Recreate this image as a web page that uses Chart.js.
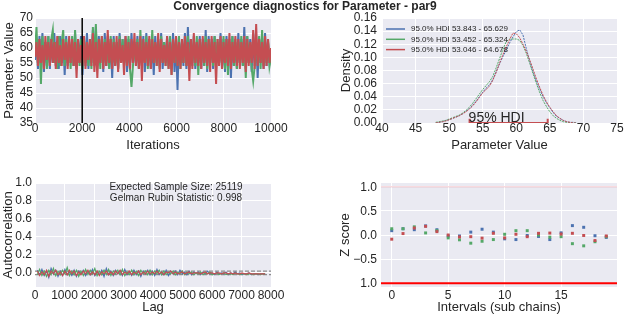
<!DOCTYPE html>
<html>
<head>
<meta charset="utf-8">
<script src="https://cdn.jsdelivr.net/npm/chart.js@4.4.0/dist/chart.umd.min.js"></script>
<style>
  html, body { margin: 0; padding: 0; background: #fff; }
  #wrap { position: relative; width: 624px; height: 316px; overflow: hidden; }
  canvas { position: absolute; left: 0; top: 0; }
  .ztick { position: absolute; font: 12px "Liberation Sans", Arial, sans-serif; color: #262626;
           line-height: 14px; height: 14px; text-align: right; width: 40px; z-index: 5; }
</style>
</head>
<body>
<div id="wrap">
  <canvas id="trace" width="624" height="316"></canvas>
  <canvas id="density" width="624" height="316"></canvas>
  <canvas id="autocorr" width="624" height="316"></canvas>
  <canvas id="zscore" width="624" height="316"></canvas>
</div>
<script>
// --- data ---
const figTitle = 'Convergence diagnostics for Parameter - par9';

// trace plot (3 chains, 10000 iterations, sampled)
const nIter = 10000;
const burnIn = 2000;
const traceBlue = [
  56,63,53,64,55,65,52,62,54,64, 53,63,55,65,54,62,53,64,55,63,
  51,64,54,63,55,62,54,65,53,63, 55,64,51,63,54,65,53,62,55,66,
  54,67,53,64,55,63,52,65,54,64, 53,63,50,64,54,62,53,65,55,63,
  54,64,52,63,53,65,55,62,54,64, 53,63,55,64,52,65,54,63,53,62,
  51,64,55,63,54,65,53,62,55,64, 54,63,53,65,52,64,46,63,55,62,
  54,65,53,67,55,63,54,64,53,62, 55,64,53,63,54,66,52,64,55,63,
  53,64,54,62,55,65,53,63,52,64, 55,63,50,64,54,62,53,65,55,63,
  54,67,53,64,55,63,52,65,54,64, 50,63,55,64,53,65,54,62,55,58
];
const traceGreen = [
  58,67,54,63,48,64,55,62,53,64, 54,63,66,55,62,53,64,54,62,66,
  54,63,55,62,53,64,54,66,55,62, 54,63,53,64,55,62,54,63,53,67,
  55,68,54,62,53,64,55,63,54,62, 53,64,55,63,54,62,53,64,55,63,
  54,63,55,64,53,47,54,62,55,63, 53,66,54,62,55,64,53,63,54,66,
  55,62,54,63,53,64,55,62,54,63, 53,64,51,62,55,63,54,64,53,62,
  55,63,54,64,53,62,55,63,54,64, 51,63,55,62,54,64,53,63,55,62,
  54,64,53,63,55,62,54,64,53,63, 51,62,55,64,54,63,53,62,55,64,
  54,63,50,64,55,62,53,49,54,63, 55,64,53,66,54,62,55,63,54,57
];
const traceRed = [
  57,62,54,63,55,61,53,64,56,62, 54,63,55,62,53,64,55,61,54,63,
  56,62,53,64,55,63,54,62,50,63, 55,61,54,64,53,62,56,63,54,65,
  52,62,50,63,55,64,53,62,54,66, 55,63,53,62,54,64,52,63,55,61,
  51,64,54,62,53,63,55,65,54,62, 53,64,49,63,55,62,54,64,53,63,
  55,62,54,65,52,63,55,61,54,64, 53,62,51,63,55,64,54,62,53,63,
  55,64,54,62,49,63,53,65,55,62, 54,63,53,64,55,62,54,63,52,64,
  55,62,48,63,54,64,53,62,55,63, 54,65,53,62,55,64,54,63,53,62,
  55,64,52,63,54,62,55,66,53,68, 54,63,55,62,53,64,54,63,55,60
];

// posterior densities
const densityX = [48,48.5,49,49.5,50,50.5,51,51.5,52,52.5,53,53.5,54,54.5,55,55.5,56,56.5,57,57.5,
  58,58.5,59,59.5,60,60.5,61,61.5,62,62.5,63,63.5,64,64.5,65,65.5,66,66.5,67,67.5,68,68.5,69];
const densityBlue = [0.000,0.001,0.002,0.004,0.005,0.007,0.009,0.011,0.014,0.018,0.022,0.027,0.033,0.040,
  0.047,0.053,0.058,0.066,0.078,0.090,0.101,0.111,0.122,0.131,0.139,0.142,0.134,0.113,0.094,0.078,
  0.064,0.051,0.040,0.031,0.023,0.016,0.010,0.007,0.004,0.002,0.001,0.001,0.000];
const densityGreen = [0.001,0.002,0.003,0.004,0.006,0.008,0.010,0.012,0.015,0.019,0.024,0.030,0.037,0.044,
  0.051,0.057,0.063,0.071,0.084,0.098,0.112,0.124,0.128,0.128,0.128,0.126,0.118,0.106,0.091,0.075,
  0.060,0.046,0.034,0.025,0.017,0.011,0.007,0.004,0.002,0.001,0.000,0.000,0.000];
const densityRed = [0.000,0.001,0.002,0.003,0.005,0.007,0.009,0.011,0.014,0.017,0.021,0.026,0.032,0.039,
  0.046,0.051,0.056,0.065,0.077,0.091,0.104,0.116,0.127,0.137,0.136,0.130,0.120,0.109,0.096,0.082,
  0.067,0.054,0.042,0.032,0.024,0.017,0.011,0.007,0.004,0.002,0.001,0.000,0.000];
const hdiLabels = ['95.0% HDI 53.843 - 65.629', '95.0% HDI 53.452 - 65.324', '95.0% HDI 53.046 - 64.678'];
const hdi = [53.046, 64.678];
const hdiText = '95% HDI';

// autocorrelation (lags 78 .. 7800)
const lagStep = 78;
const acBlue = [0.03,-0.02,0.04,-0.03,0.02,-0.05,0.05,-0.01,0.03,-0.04,
  0.02,-0.03,0.04,-0.02,0.01,-0.03,0.03,-0.04,0.02,-0.01,
  0.03,-0.03,0.02,-0.02,0.04,-0.03,0.01,-0.02,0.03,-0.04,
  0.05,-0.02,0.02,-0.03,0.03,-0.01,0.02,-0.03,0.04,-0.02,
  0.01,-0.03,0.03,-0.02,0.02,-0.04,0.02,-0.01,0.03,-0.02,
  0.02,-0.03,0.04,-0.02,0.01,-0.02,0.03,-0.03,0.02,-0.01,
  0.02,-0.02,0.03,-0.01,0.01,-0.02,0.02,-0.02,0.01,-0.01,
  0.01,-0.02,0.01,-0.01,0.02,-0.01,0.00,-0.02,0.01,-0.01,
  0.00,-0.01,0.01,-0.02,0.00,-0.01,0.01,-0.01,0.00,-0.02,
  -0.01,-0.01,0.00,-0.02,-0.01,-0.01,-0.02,-0.01,-0.01,-0.01];
const acGreen = [-0.02,0.04,-0.03,0.02,-0.04,0.03,-0.02,0.05,-0.03,0.02,
  -0.02,0.03,-0.01,0.06,-0.03,0.02,-0.02,0.03,-0.04,0.02,
  -0.03,0.04,-0.02,0.03,-0.01,0.05,-0.03,0.02,-0.02,0.03,
  -0.02,0.04,-0.03,0.02,-0.01,0.03,-0.02,0.04,-0.03,0.01,
  -0.02,0.03,-0.02,0.02,-0.03,0.03,-0.01,0.02,-0.02,0.03,
  -0.02,0.02,-0.01,0.03,-0.02,0.02,-0.02,0.01,-0.01,0.02,
  -0.02,0.01,-0.01,0.02,-0.02,0.01,-0.01,0.01,-0.02,0.00,
  -0.01,0.01,-0.02,0.00,-0.01,0.01,-0.02,-0.01,0.00,-0.02,
  -0.01,0.00,-0.02,-0.01,-0.01,-0.02,0.00,-0.01,-0.02,-0.01,
  -0.01,-0.02,-0.01,-0.01,-0.02,-0.01,-0.01,-0.02,-0.01,-0.01];
const acRed = [0.02,-0.03,0.01,-0.02,0.03,-0.04,0.02,-0.01,0.03,-0.02,
  0.01,-0.03,0.02,-0.02,0.03,-0.01,0.02,-0.03,0.01,-0.02,
  0.02,-0.01,0.03,-0.02,0.01,-0.02,0.02,-0.03,0.01,-0.01,
  0.02,-0.02,0.01,-0.02,0.02,-0.01,0.03,-0.02,0.01,-0.01,
  0.02,-0.02,0.01,-0.01,0.02,-0.02,0.01,-0.01,0.02,-0.01,
  0.01,-0.01,0.02,-0.01,0.01,-0.02,0.01,0.00,0.02,-0.01,
  0.01,-0.01,0.00,0.01,-0.01,0.00,0.01,-0.01,0.00,0.00,
  0.00,-0.01,0.00,0.01,-0.01,0.00,0.00,-0.01,0.00,0.00,
  -0.01,0.00,0.00,-0.01,0.00,-0.01,0.00,-0.01,-0.01,0.00,
  -0.01,-0.01,0.00,-0.01,-0.01,-0.01,-0.01,-0.01,-0.01,-0.01];
const acBand = 0.0196;
const acNotes = ['Expected Sample Size: 25119', 'Gelman Rubin Statistic: 0.998'];

// Geweke z-scores per interval
const zIntervals = [0,1,2,3,4,5,6,7,8,9,10,11,12,13,14,15,16,17,18,19];
const zBlue = [0.09,0.13,0.11,0.19,0.11,-0.02,-0.02,0.06,0.12,0.06,-0.08,-0.095,-0.01,-0.03,-0.095,0.045,0.195,0.16,-0.015,-0.05];
const zGreen = [0.13,0.13,0.17,0.043,0.09,-0.06,-0.10,-0.17,-0.13,-0.095,0.015,0.09,0.09,0.0,-0.045,-0.035,-0.18,-0.225,-0.14,-0.035];
const zRed = [-0.087,0.03,0.145,0.18,0.07,0.0,-0.04,-0.035,-0.065,0.035,-0.06,0.015,-0.035,0.035,0.04,0.02,0.035,-0.01,-0.115,-0.02];
const zLimits = [-1, 1];
const zYTicks = [-1, -0.5, 0, 0.5, 1];
const zTickLabels = ['1.0', '\u22120.5', '0.0', '0.5', '1.0'];   // as printed, bottom to top

// --- style ---
const BLUE = '#4C72B0', GREEN = '#55A868', RED = '#C44E52';
const BG = '#EAEAF2', INK = '#262626';
const FONT = '"Liberation Sans", Arial, sans-serif';

Chart.defaults.font.family = FONT;
Chart.defaults.color = INK;
Chart.defaults.animation = false;
Chart.defaults.responsive = false;
Chart.defaults.plugins.legend.display = false;
Chart.defaults.plugins.tooltip.enabled = false;

Chart.register({
  id: 'plotBg',
  beforeDraw(chart) {
    const { ctx, chartArea: a } = chart;
    ctx.save();
    ctx.fillStyle = BG;
    ctx.fillRect(a.left, a.top, a.width, a.height);
    ctx.restore();
  }
});

// plot = [left, top, right, bottom] of the axes box in page pixels
function axes(plot, yW, xH, x, y) {
  const common = (o, isX) => ({
    type: 'linear',
    min: o.min, max: o.max,
    border: { display: false },
    grid: { color: '#ffffff', lineWidth: 1, drawTicks: false },
    afterFit: s => { if (isX) s.height = xH; else s.width = yW; },
    afterBuildTicks: s => { s.ticks = o.ticks.map(v => ({ value: v })); },
    ticks: {
      display: o.showTicks !== false,
      font: { size: 12, lineHeight: 1 },
      padding: o.pad,
      autoSkip: false,
      maxRotation: 0,
      minRotation: 0,
      callback: o.fmt || (v => v)
    },
    title: {
      display: true, text: o.title, color: INK,
      font: { size: 13 },
      padding: { top: o.tpad || 0, bottom: 0 }
    }
  });
  return {
    layout: { padding: { left: plot[0] - yW, top: plot[1], right: 624 - plot[2], bottom: 316 - plot[3] - xH } },
    scales: { x: common(x, true), y: common(y, false) }
  };
}

const series = (vals, xs) => vals.map((v, i) => ({ x: xs(i), y: v }));
const lineDs = (data, color, extra) => Object.assign({
  type: 'line', data, borderColor: color, backgroundColor: color,
  borderWidth: 1.2, pointRadius: 0, tension: 0
}, extra || {});

// --- trace ---
const iterAt = n => i => i * nIter / (n - 1);
new Chart(document.getElementById('trace'), {
  type: 'line',
  data: {
    datasets: [
      lineDs([{ x: burnIn, y: 35 }, { x: burnIn, y: 70 }], '#000000', { borderWidth: 1.5 }),
      lineDs(series(traceRed, iterAt(traceRed.length)), RED, { borderWidth: 2 }),
      lineDs(series(traceGreen, iterAt(traceGreen.length)), GREEN, { borderWidth: 2 }),
      lineDs(series(traceBlue, iterAt(traceBlue.length)), BLUE, { borderWidth: 2 })
    ]
  },
  options: axes([35, 18, 271, 123], 35, 30,
    { min: 0, max: nIter, ticks: [0, 2000, 4000, 6000, 8000, 10000], pad: 0, title: 'Iterations' },
    { min: 35, max: 70, ticks: [35, 40, 45, 50, 55, 60, 65, 70], pad: 2, tpad: 2, title: 'Parameter Value' }),
  plugins: [{
    id: 'suptitle',
    afterDraw(chart) {
      const ctx = chart.ctx;
      ctx.save();
      ctx.font = 'bold 12px ' + FONT;
      ctx.fillStyle = INK;
      ctx.textAlign = 'center';
      ctx.textBaseline = 'alphabetic';
      ctx.fillText(figTitle, 305, 10);
      ctx.restore();
    }
  }]
});

// --- density ---
const atDensityX = i => densityX[i];
new Chart(document.getElementById('density'), {
  type: 'line',
  data: {
    datasets: [
      lineDs([{ x: hdi[0], y: 0.0065 }, { x: hdi[0], y: 0 }, { x: hdi[1], y: 0 }, { x: hdi[1], y: 0.0065 }], RED, { borderWidth: 2 }),
      lineDs(series(densityRed, atDensityX), RED, { borderWidth: 1, borderDash: [2, 1] }),
      lineDs(series(densityGreen, atDensityX), GREEN, { borderWidth: 1, borderDash: [2, 1] }),
      lineDs(series(densityBlue, atDensityX), BLUE, { borderWidth: 1, borderDash: [2, 1] })
    ]
  },
  options: axes([382, 18, 617, 123], 44, 30,
    { min: 40, max: 75, ticks: [40, 45, 50, 55, 60, 65, 70, 75], pad: 0, title: 'Parameter Value' },
    { min: 0, max: 0.16, ticks: [0, 0.02, 0.04, 0.06, 0.08, 0.10, 0.12, 0.14, 0.16], pad: 5, tpad: 1,
      fmt: v => v.toFixed(2), title: 'Density' }),
  plugins: [{
    id: 'hdiNotes',
    afterDraw(chart) {
      const { ctx, chartArea: a, scales } = chart;
      ctx.save();
      ctx.font = '14px ' + FONT;
      ctx.fillStyle = INK;
      ctx.textBaseline = 'alphabetic';
      ctx.fillText(hdiText, scales.x.getPixelForValue(hdi[0]) - 1, scales.y.getPixelForValue(0) - 1.3);
      const colors = [BLUE, GREEN, RED];
      ctx.font = '8px ' + FONT;
      ctx.textBaseline = 'middle';
      hdiLabels.forEach((t, k) => {
        const yy = a.top + 11 + k * 10.3;
        ctx.strokeStyle = colors[k];
        ctx.lineWidth = 1.5;
        ctx.beginPath();
        ctx.moveTo(a.left + 4, yy);
        ctx.lineTo(a.left + 23, yy);
        ctx.stroke();
        ctx.fillStyle = INK;
        ctx.fillText(t, a.left + 29, yy);
      });
      ctx.restore();
    }
  }]
});

// --- autocorrelation ---
const lagAt = i => (i + 1) * lagStep;
new Chart(document.getElementById('autocorr'), {
  type: 'line',
  data: {
    datasets: [
      lineDs(series(acRed, lagAt), RED),
      lineDs(series(acGreen, lagAt), GREEN),
      lineDs(series(acBlue, lagAt), BLUE),
      lineDs([{ x: 0, y: acBand }, { x: 8000, y: acBand }], '#8c8c8c', { borderDash: [4, 2], borderWidth: 1.2 }),
      lineDs([{ x: 0, y: -acBand }, { x: 8000, y: -acBand }], '#8c8c8c', { borderDash: [4, 2], borderWidth: 1.2 })
    ]
  },
  options: axes([35, 183, 271, 287], 35, 28,
    { min: 0, max: 8000, ticks: [0, 1000, 2000, 3000, 4000, 5000, 6000, 7000, 8000], pad: 3, title: 'Lag' },
    { min: -0.157, max: 1.0, ticks: [0, 0.2, 0.4, 0.6, 0.8, 1.0], pad: 3, tpad: 0.7,
      fmt: v => v.toFixed(1), title: 'Autocorrelation' }),
  plugins: [{
    id: 'acNotes',
    afterDraw(chart) {
      const ctx = chart.ctx;
      ctx.save();
      ctx.font = '10px ' + FONT;
      ctx.fillStyle = INK;
      ctx.textAlign = 'center';
      ctx.textBaseline = 'middle';
      acNotes.forEach((t, k) => ctx.fillText(t, 176, 187.3 + k * 11));
      ctx.restore();
    }
  }]
});

// --- z scores ---
const atInterval = i => zIntervals[i];
const dotDs = (vals, color) => ({
  type: 'scatter', data: series(vals, atInterval),
  backgroundColor: color, borderWidth: 0, pointStyle: 'rect', pointRadius: 2.1
});
const zChart = new Chart(document.getElementById('zscore'), {
  type: 'scatter',
  data: {
    datasets: [
      dotDs(zRed, RED),
      dotDs(zGreen, GREEN),
      dotDs(zBlue, BLUE),
      lineDs([{ x: -0.95, y: zLimits[0] }, { x: 19.95, y: zLimits[0] }], '#ff0000', { borderWidth: 2 }),
      lineDs([{ x: -0.95, y: zLimits[1] }, { x: 19.95, y: zLimits[1] }], 'rgba(220,70,90,0.3)', { borderWidth: 1 })
    ]
  },
  options: axes([381, 183, 617, 287], 44, 28,
    { min: -0.95, max: 19.95, ticks: [0, 5, 10, 15], pad: 3, title: 'Intervals (sub chains)' },
    { min: -1.08, max: 1.08, ticks: zYTicks, pad: 4, tpad: 0.2, showTicks: false, title: 'Z score' })
});

// y tick labels of the z-score panel, placed from the chart's own scale
const wrap = document.getElementById('wrap');
const zy = zChart.scales.y;
zYTicks.forEach((v, k) => {
  const el = document.createElement('div');
  el.className = 'ztick';
  el.textContent = zTickLabels[k];
  el.style.left = (zChart.chartArea.left - 4 - 40) + 'px';
  el.style.top = (zy.getPixelForValue(v) - 7) + 'px';
  wrap.appendChild(el);
});
</script>
</body>
</html>
